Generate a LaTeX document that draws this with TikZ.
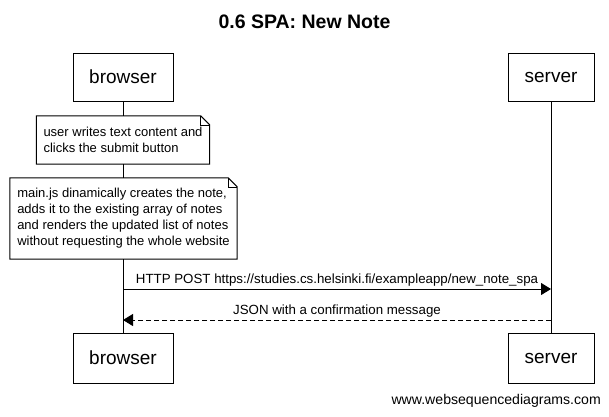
\documentclass[tikz,border=0pt]{standalone}
\usepackage{fontspec}
\setmainfont{Liberation Sans}
\usetikzlibrary{arrows.meta,calc}

\begin{document}
\begin{tikzpicture}[x=1pt,y=-1pt]
	\tikzset{actor/.style={draw,line width=1pt,minimum width=100pt,minimum height=48pt,inner sep=0pt,font=\fontsize{19}{22}\selectfont}}
	\tikzset{notebox/.style={fill=white,align=left,inner xsep=6pt,inner ysep=0pt,font=\fontsize{13}{16}\selectfont}}
	\tikzset{msg/.style={line width=1pt,-{Triangle[length=10pt,width=12pt]}}}
	\tikzset{msglabel/.style={font=\fontsize{13.3}{16}\selectfont,inner sep=0pt}}
	\pgfmathsetmacro{\fold}{9}

	\useasboundingbox[fill=white] (0,0) rectangle (609,416);
	\node[font=\bfseries\fontsize{19.5}{22}\selectfont] (title) at (304.5,22) {0.6 SPA: New Note};

	% participants, top and bottom
	\node[actor] (browser) at (123,77) {browser};
	\node[actor,minimum width=86pt] (server) at (551,77) {server};
	\node[actor,minimum height=50pt] (browserEnd) at (123,358) {browser};
	\node[actor,minimum width=86pt,minimum height=50pt] (serverEnd) at (551,358) {server};
	\draw[line width=1pt] (browser) -- (browserEnd);
	\draw[line width=1pt] (server) -- (serverEnd);

	% notes over browser
	\node[notebox,minimum width=173pt,minimum height=48pt] (typing) at (123,140)
	  {user writes text content and\\clicks the submit button};
	\node[notebox,minimum width=227pt,minimum height=81pt] (render) at (123.5,218.5)
	  {main.js dinamically creates the note,\\adds it to the existing array of notes\\and renders the updated list of notes\\without requesting the whole website};
	\foreach \n in {typing,render} {
	  \draw[line width=1pt] (\n.north west) -- ($(\n.north east)+(-\fold pt,0pt)$)
	    -- ($(\n.north east)+(0pt,-\fold pt)$) -- (\n.south east) -- (\n.south west) -- cycle;
	  \draw[line width=0.6pt] ($(\n.north east)+(-\fold pt,0pt)$) -- ($(\n.north east)+(-\fold pt,-\fold pt)$)
	    -- ($(\n.north east)+(0pt,-\fold pt)$);
	}

	% messages
	\coordinate (postY) at (0,289);
	\coordinate (jsonY) at (0,320);
	\draw[msg] (browser |- postY) -- node[msglabel,above=2pt]
	  {HTTP POST https://studies.cs.helsinki.fi/exampleapp/new\_note\_spa} (server |- postY);
	\draw[msg,dash pattern=on 5pt off 3pt] (server |- jsonY) -- node[msglabel,above=2pt]
	  {JSON with a confirmation message} (browser |- jsonY);

	\node[font=\fontsize{14.1}{16}\selectfont,inner sep=0pt,anchor=east] (credit) at (601,401) {www.websequencediagrams.com};
\end{tikzpicture}
\end{document}
